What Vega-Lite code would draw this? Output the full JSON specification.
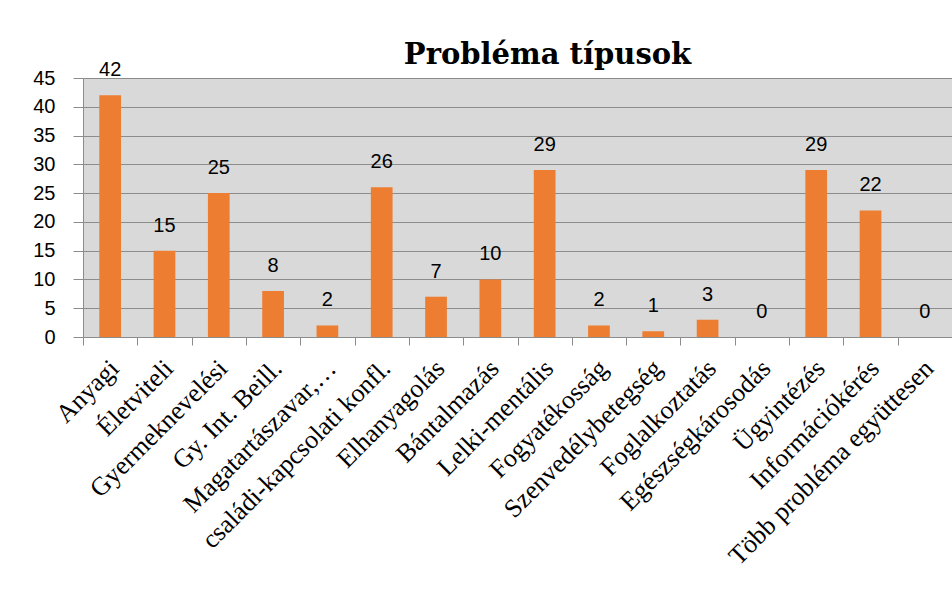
{
  "$schema": "https://vega.github.io/schema/vega-lite/v6.json",
  "autosize": {"type": "none"},
  "width": 869,
  "height": 259,
  "padding": {"left": 83, "top": 78, "right": 0, "bottom": 260},
  "background": "#ffffff",
  "title": {
    "text": "Probléma típusok",
    "font": "DejaVu Serif",
    "fontSize": 29,
    "fontWeight": "bold",
    "color": "#000000",
    "anchor": "middle",
    "baseline": "alphabetic",
    "offset": 15,
    "dx": 30,
    "dy": 48
  },
  "config": {
    "view": {"fill": "#d9d9d9", "stroke": null}
  },
  "data": {
    "values": [
      {"tipus": "Anyagi", "ertek": 42},
      {"tipus": "Életviteli", "ertek": 15},
      {"tipus": "Gyermeknevelési", "ertek": 25},
      {"tipus": "Gy. Int. Beill.", "ertek": 8},
      {"tipus": "Magatartászavar,…", "ertek": 2},
      {"tipus": "családi-kapcsolati konfl.", "ertek": 26},
      {"tipus": "Elhanyagolás", "ertek": 7},
      {"tipus": "Bántalmazás", "ertek": 10},
      {"tipus": "Lelki-mentális", "ertek": 29},
      {"tipus": "Fogyatékosság", "ertek": 2},
      {"tipus": "Szenvedélybetegség", "ertek": 1},
      {"tipus": "Foglalkoztatás", "ertek": 3},
      {"tipus": "Egészségkárosodás", "ertek": 0},
      {"tipus": "Ügyintézés", "ertek": 29},
      {"tipus": "Információkérés", "ertek": 22},
      {"tipus": "Több probléma együttesen", "ertek": 0}
    ]
  },
  "encoding": {
    "x": {
      "field": "tipus",
      "type": "nominal",
      "sort": null,
      "scale": {"paddingInner": 0, "paddingOuter": 0},
      "axis": {
        "title": null,
        "labelAngle": -45,
        "labelAlign": "right",
        "labelBaseline": "middle",
        "labelFont": "Liberation Serif",
        "labelFontWeight": "normal",
        "labelFontSize": 26,
        "labelColor": "#000000",
        "labelPadding": 19,
        "labelOffset": 4,
        "labelLimit": 400,
        "tickBand": "extent",
        "tickSize": 8,
        "tickColor": "#8c8c8c",
        "domainColor": "#8c8c8c",
        "grid": false
      }
    },
    "y": {
      "field": "ertek",
      "type": "quantitative",
      "scale": {"domain": [0, 45], "nice": false},
      "axis": {
        "title": null,
        "values": [0, 5, 10, 15, 20, 25, 30, 35, 40, 45],
        "labelFont": "Liberation Sans",
        "labelFontSize": 20,
        "labelColor": "#000000",
        "labelPadding": 18,
        "tickSize": 10,
        "tickColor": "#8c8c8c",
        "domainColor": "#8c8c8c",
        "grid": true,
        "gridColor": "#8c8c8c",
        "gridOpacity": 1
      }
    }
  },
  "layer": [
    {
      "mark": {"type": "bar", "color": "#ed7d31", "width": {"band": 0.4}}
    },
    {
      "mark": {
        "type": "text",
        "baseline": "alphabetic",
        "dy": -19,
        "font": "Liberation Sans",
        "fontSize": 20,
        "color": "#000000"
      },
      "encoding": {"text": {"field": "ertek", "type": "quantitative"}}
    }
  ]
}
